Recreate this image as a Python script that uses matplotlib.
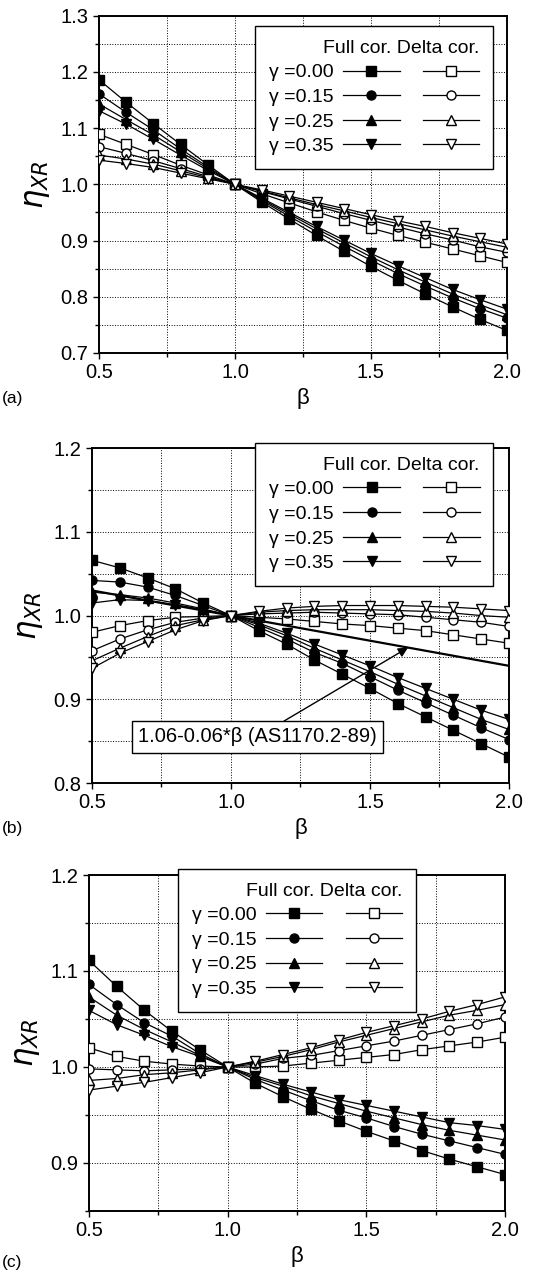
import matplotlib
matplotlib.use('Agg')
import matplotlib.pyplot as plt
from matplotlib.lines import Line2D
from matplotlib.ticker import MultipleLocator

plt.rcParams['font.family'] = ['Liberation Sans', 'DejaVu Sans']

beta = [0.5, 0.6, 0.7, 0.8, 0.9, 1.0, 1.1, 1.2, 1.3, 1.4, 1.5, 1.6, 1.7, 1.8, 1.9, 2.0]
gamma_labels = ['γ =0.00', 'γ =0.15', 'γ =0.25', 'γ =0.35']

# panel (a)
a_full_000 = [1.186, 1.146, 1.108, 1.071, 1.035, 1.000, 0.968, 0.938, 0.909, 0.881, 0.854, 0.829, 0.805, 0.782, 0.760, 0.740]
a_full_015 = [1.161, 1.128, 1.097, 1.063, 1.031, 1.000, 0.971, 0.943, 0.916, 0.890, 0.865, 0.841, 0.819, 0.798, 0.779, 0.762]
a_full_025 = [1.143, 1.115, 1.088, 1.058, 1.028, 1.000, 0.973, 0.947, 0.921, 0.896, 0.871, 0.848, 0.826, 0.805, 0.786, 0.768]
a_full_035 = [1.131, 1.107, 1.080, 1.052, 1.025, 1.000, 0.975, 0.950, 0.925, 0.901, 0.877, 0.855, 0.834, 0.813, 0.795, 0.778]
a_delta_000 = [1.089, 1.071, 1.053, 1.034, 1.017, 1.000, 0.983, 0.967, 0.951, 0.936, 0.922, 0.909, 0.897, 0.885, 0.873, 0.861]
a_delta_015 = [1.067, 1.055, 1.042, 1.028, 1.014, 1.000, 0.987, 0.974, 0.961, 0.948, 0.936, 0.924, 0.912, 0.901, 0.889, 0.879]
a_delta_025 = [1.052, 1.045, 1.036, 1.024, 1.012, 1.000, 0.988, 0.976, 0.964, 0.953, 0.941, 0.930, 0.919, 0.908, 0.898, 0.888]
a_delta_035 = [1.043, 1.037, 1.030, 1.020, 1.010, 1.000, 0.990, 0.979, 0.968, 0.957, 0.946, 0.935, 0.925, 0.914, 0.904, 0.894]

# panel (b)
b_full_000 = [1.066, 1.057, 1.045, 1.032, 1.015, 1.000, 0.982, 0.966, 0.947, 0.930, 0.913, 0.895, 0.879, 0.863, 0.847, 0.831]
b_full_015 = [1.042, 1.040, 1.034, 1.024, 1.012, 1.000, 0.986, 0.972, 0.956, 0.943, 0.927, 0.911, 0.896, 0.881, 0.866, 0.852]
b_full_025 = [1.028, 1.025, 1.021, 1.015, 1.008, 1.000, 0.989, 0.976, 0.961, 0.947, 0.933, 0.918, 0.904, 0.890, 0.876, 0.864]
b_full_035 = [1.015, 1.019, 1.018, 1.013, 1.007, 1.000, 0.991, 0.979, 0.966, 0.953, 0.940, 0.926, 0.913, 0.900, 0.887, 0.876]
b_delta_000 = [0.980, 0.988, 0.994, 0.998, 0.999, 1.000, 0.998, 0.996, 0.993, 0.990, 0.988, 0.985, 0.982, 0.977, 0.972, 0.967]
b_delta_015 = [0.958, 0.972, 0.983, 0.992, 0.997, 1.000, 1.002, 1.003, 1.004, 1.003, 1.002, 1.001, 0.998, 0.995, 0.992, 0.987]
b_delta_025 = [0.946, 0.961, 0.975, 0.988, 0.995, 1.000, 1.004, 1.006, 1.007, 1.007, 1.007, 1.006, 1.005, 1.003, 1.000, 0.998]
b_delta_035 = [0.937, 0.955, 0.969, 0.983, 0.994, 1.000, 1.005, 1.009, 1.011, 1.012, 1.012, 1.012, 1.011, 1.010, 1.008, 1.006]
code_beta = [0.5, 2.0]

# panel (c)
c_full_000 = [1.111, 1.084, 1.059, 1.037, 1.018, 1.000, 0.983, 0.969, 0.956, 0.944, 0.933, 0.923, 0.913, 0.904, 0.896, 0.888]
c_full_015 = [1.086, 1.065, 1.046, 1.032, 1.014, 1.000, 0.987, 0.976, 0.965, 0.955, 0.947, 0.938, 0.930, 0.923, 0.916, 0.909]
c_full_025 = [1.073, 1.054, 1.039, 1.026, 1.012, 1.000, 0.989, 0.980, 0.970, 0.962, 0.954, 0.947, 0.940, 0.934, 0.929, 0.924]
c_full_035 = [1.059, 1.044, 1.033, 1.021, 1.011, 1.000, 0.991, 0.982, 0.974, 0.966, 0.960, 0.954, 0.948, 0.942, 0.939, 0.935]
c_delta_000 = [1.020, 1.011, 1.006, 1.003, 1.001, 1.000, 1.000, 1.001, 1.004, 1.007, 1.010, 1.013, 1.018, 1.022, 1.026, 1.031]
c_delta_015 = [0.998, 0.997, 0.996, 0.997, 0.998, 1.000, 1.003, 1.009, 1.012, 1.017, 1.022, 1.027, 1.033, 1.039, 1.045, 1.052]
c_delta_025 = [0.986, 0.988, 0.992, 0.994, 0.997, 1.000, 1.005, 1.011, 1.018, 1.026, 1.033, 1.040, 1.047, 1.054, 1.059, 1.065]
c_delta_035 = [0.976, 0.980, 0.984, 0.989, 0.994, 1.000, 1.006, 1.013, 1.020, 1.028, 1.036, 1.043, 1.050, 1.058, 1.065, 1.073]

markers = ['s', 'o', '^', 'v']


def draw_panel(ax, full, delta, ylim, leg_anchor, leg_loc):
    for i in range(4):
        ax.plot(beta, full[i], color='black', lw=0.9, marker=markers[i],
                markersize=6.5, markerfacecolor='black', markeredgecolor='black', zorder=3)
        ax.plot(beta, delta[i], color='black', lw=0.9, marker=markers[i],
                markersize=6.5, markerfacecolor='white', markeredgecolor='black', zorder=3)
    ax.set_xlim(0.5, 2.0)
    ax.set_ylim(*ylim)
    ax.xaxis.set_major_locator(MultipleLocator(0.5))
    ax.xaxis.set_minor_locator(MultipleLocator(0.25))
    ax.yaxis.set_major_locator(MultipleLocator(0.1))
    ax.yaxis.set_minor_locator(MultipleLocator(0.05))
    ax.xaxis.set_major_formatter(plt.FormatStrFormatter('%.1f'))
    ax.yaxis.set_major_formatter(plt.FormatStrFormatter('%.1f'))
    ax.grid(which='both', linestyle=':', color='black', lw=0.7)
    ax.tick_params(which='major', direction='out', length=4, width=1, labelsize=14.5)
    ax.tick_params(which='minor', direction='out', length=3, width=1)
    for s in ax.spines.values():
        s.set_linewidth(1.4)
    ax.set_xlabel('β', fontsize=16, labelpad=4)
    ax.set_ylabel(r'$\eta_{XR}$', fontsize=22, labelpad=6)

    handles = []
    labels = []
    for i in range(4):
        handles.append(Line2D([], [], color='black', lw=0.9, marker=markers[i],
                              markersize=6.5, markerfacecolor='black', markeredgecolor='black'))
        labels.append(gamma_labels[i])
    for i in range(4):
        handles.append(Line2D([], [], color='black', lw=0.9, marker=markers[i],
                              markersize=6.5, markerfacecolor='white', markeredgecolor='black'))
        labels.append('')
    leg = ax.legend(handles, labels, ncol=2, markerfirst=False, loc=leg_loc,
                    bbox_to_anchor=leg_anchor, borderaxespad=0,
                    title='Full cor. Delta cor.',
                    title_fontsize=14, fontsize=14, alignment='right',
                    fancybox=False, framealpha=1, edgecolor='black',
                    handlelength=2.9, handletextpad=0.5, columnspacing=0.7,
                    labelspacing=0.36, borderpad=0.7, numpoints=1)
    leg.get_frame().set_linewidth(1.0)
    leg.set_zorder(5)
    return leg


fig = plt.figure(figsize=(5.36, 12.77), dpi=100)

ax_a = fig.add_axes([0.1847, 0.7236, 0.761, 0.2641])
draw_panel(ax_a, [a_full_000, a_full_015, a_full_025, a_full_035],
           [a_delta_000, a_delta_015, a_delta_025, a_delta_035],
           (0.7, 1.3), (0.966, 0.969), 'upper right')

ax_b = fig.add_axes([0.1716, 0.3868, 0.778, 0.2623])
ax_b.plot(code_beta, [1.06 - 0.06 * b for b in code_beta], color='black', lw=1.6, zorder=2)
draw_panel(ax_b, [b_full_000, b_full_015, b_full_025, b_full_035],
           [b_delta_000, b_delta_015, b_delta_025, b_delta_035],
           (0.8, 1.2), (0.962, 1.015), 'upper right')
ax_b.annotate('1.06-0.06*β (AS1170.2-89)', xy=(1.637, 1.06 - 0.06 * 1.637),
              xytext=(1.094, 0.855), fontsize=14.5, ha='center', va='center',
              bbox=dict(boxstyle='square,pad=0.3', fc='white', ec='black', lw=1.0),
              arrowprops=dict(arrowstyle='-|>', color='black', lw=1.0, shrinkA=0, shrinkB=0),
              zorder=6)

ax_c = fig.add_axes([0.166, 0.0517, 0.776, 0.2631])
draw_panel(ax_c, [c_full_000, c_full_015, c_full_025, c_full_035],
           [c_delta_000, c_delta_015, c_delta_025, c_delta_035],
           (0.85, 1.2), (0.214, 1.018), 'upper left')

fig.text(0.004, 1 - 398 / 1277, '(a)', fontsize=12.5, va='center')
fig.text(0.004, 1 - 828 / 1277, '(b)', fontsize=12.5, va='center')
fig.text(0.004, 1 - 1262 / 1277, '(c)', fontsize=12.5, va='center')

fig.savefig('out.png', dpi=100)
